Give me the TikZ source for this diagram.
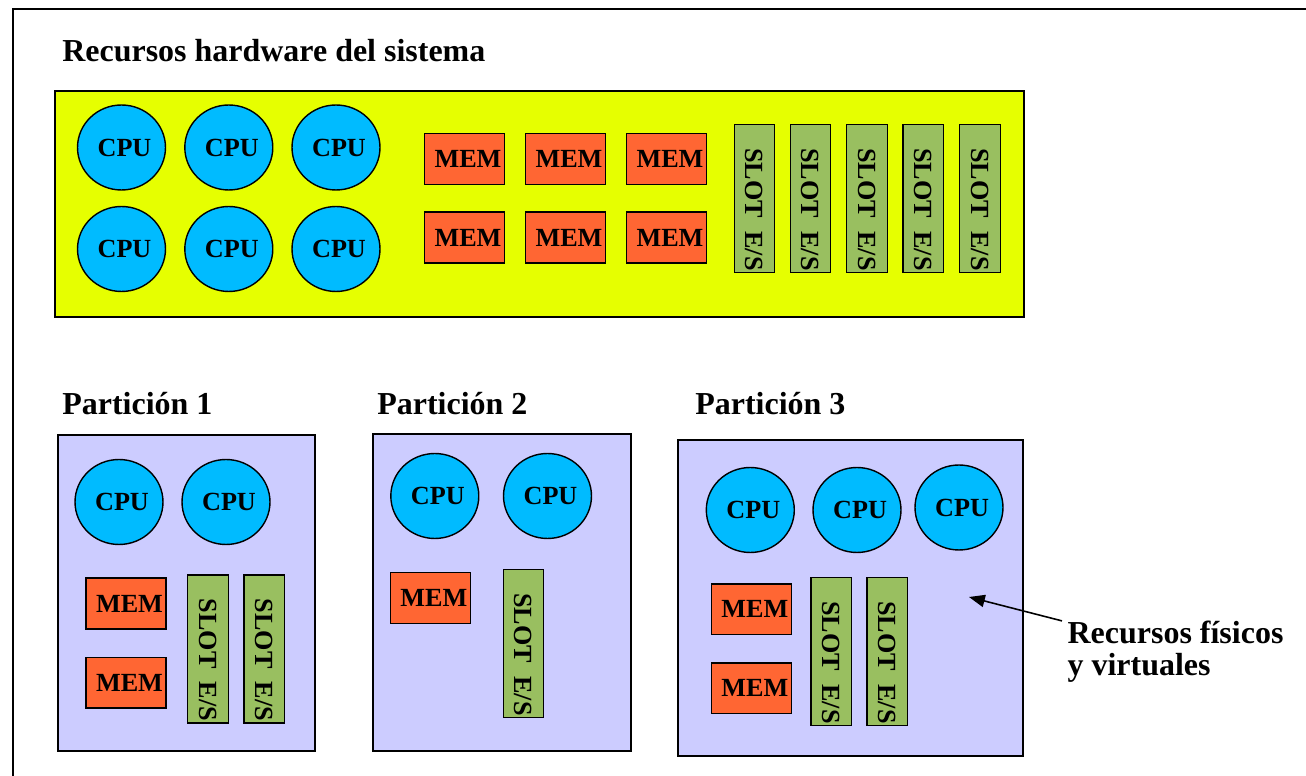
\documentclass[tikz,border=0pt]{standalone}
\usepackage{fontspec}
\setmainfont{Liberation Serif}
\usetikzlibrary{shapes.geometric,arrows.meta}
\definecolor{hwyellow}{RGB}{230,255,0}
\definecolor{partlilac}{RGB}{204,204,255}
\definecolor{cpublue}{RGB}{0,187,255}
\definecolor{memorange}{RGB}{255,102,51}
\definecolor{slotgreen}{RGB}{153,191,96}
\def\bigfont{\fontsize{18.2pt}{18.2pt}\selectfont\bfseries}
\def\smallfont{\fontsize{14.9pt}{14.9pt}\selectfont\bfseries}
\tikzset{
	cpu/.style={ellipse, draw, line width=0.8pt, fill=cpublue, minimum width=17.6mm, minimum height=17mm, inner sep=0, font=\smallfont},
	mem/.style={rectangle, draw, line width=0.8pt, fill=memorange, minimum width=16mm, minimum height=10.2mm, inner sep=0, font=\smallfont},
	slotbox/.style={rectangle, draw, line width=0.8pt, fill=slotgreen, rotate=-90, minimum width=29.6mm, minimum height=8.1mm, inner sep=0, font=\smallfont},
	partbox/.style={draw, line width=0.8pt, fill=partlilac},
	caption/.style={anchor=base west, inner sep=0, font=\bigfont}
}
\def\cputext{\hspace*{1.2mm}CPU}
\def\memtext{\hspace*{1.4mm}MEM}
\def\slottext{\hspace*{4.4mm}SLOT\ \ E/S}

\begin{document}
\begin{tikzpicture}[x=0.02cm,y=-0.02cm]
			%%%%% START %%%%%
			\useasboundingbox (0,0) rectangle (1306,776);
			\draw[line width=0.8pt] (1330,9) -- (13,9) -- (13,800);
			
			% hardware del sistema
			\node[caption] (title) at (62,61.7) {Recursos hardware del sistema};
			\draw[partbox, fill=hwyellow] (55,91) rectangle (1024,317);
			
			\node[cpu] (cpuA1) at (121.5,147.5) {\cputext};
			\node[cpu] (cpuA2) at (228.8,147.5) {\cputext};
			\node[cpu] (cpuA3) at (336,147.5) {\cputext};
			\node[cpu] (cpuA4) at (121.5,249) {\cputext};
			\node[cpu] (cpuA5) at (228.8,249) {\cputext};
			\node[cpu] (cpuA6) at (336,249) {\cputext};
			
			\node[mem] (memA1) at (464.5,158.8) {\memtext};
			\node[mem] (memA2) at (565.5,158.8) {\memtext};
			\node[mem] (memA3) at (666.5,158.8) {\memtext};
			\node[mem] (memA4) at (464.5,237.7) {\memtext};
			\node[mem] (memA5) at (565.5,237.7) {\memtext};
			\node[mem] (memA6) at (666.5,237.7) {\memtext};
			
			\foreach \x [count=\i] in {754.5,810.5,867,923.3,980}
				\node[slotbox] (slotA\i) at (\x,198.5) {\slottext};
			
			% particion 1
			\node[caption] (part1) at (62,415) {Partición 1};
			\draw[partbox] (58,435) rectangle (315,751);
			\node[cpu] (cpuB1) at (119,502) {\cputext};
			\node[cpu] (cpuB2) at (226,502) {\cputext};
			\node[mem] (memB1) at (126,603.5) {\memtext};
			\node[mem] (memB2) at (126,682.7) {\memtext};
			\node[slotbox] (slotB1) at (208,649) {\slottext};
			\node[slotbox] (slotB2) at (264.2,649) {\slottext};
			
			% particion 2
			\node[caption] (part2) at (377,415) {Partición 2};
			\draw[partbox] (373,434) rectangle (631,751);
			\node[cpu] (cpuC1) at (434.8,496) {\cputext};
			\node[cpu] (cpuC2) at (547.5,496) {\cputext};
			\node[mem] (memC1) at (430.3,598) {\memtext};
			\node[slotbox] (slotC1) at (523.5,643.5) {\slottext};
			
			% particion 3
			\node[caption] (part3) at (695,415) {Partición 3};
			\draw[partbox] (678,440) rectangle (1023,756);
			\node[cpu] (cpuD1) at (750.3,510) {\cputext};
			\node[cpu] (cpuD2) at (857,510) {\cputext};
			\node[cpu] (cpuD3) at (959,507.5) {\cputext};
			\node[mem] (memD1) at (751.3,609.3) {\memtext};
			\node[mem] (memD2) at (751.3,688.3) {\memtext};
			\node[slotbox] (slotD1) at (831.2,651.5) {\slottext};
			\node[slotbox] (slotD2) at (887.3,651.5) {\slottext};
			
			% recursos
			\node[anchor=north west, align=left, inner sep=3pt, font=\bigfont] (recursos) at (1062,615) {Recursos físicos\\y virtuales};
			\coordinate (ptr) at (969,597);
			\draw[line width=0.9pt, -{Triangle[length=9pt,width=7pt]}] (recursos.165) -- (ptr);
			%%%%% END %%%%%
\end{tikzpicture}
\end{document}
